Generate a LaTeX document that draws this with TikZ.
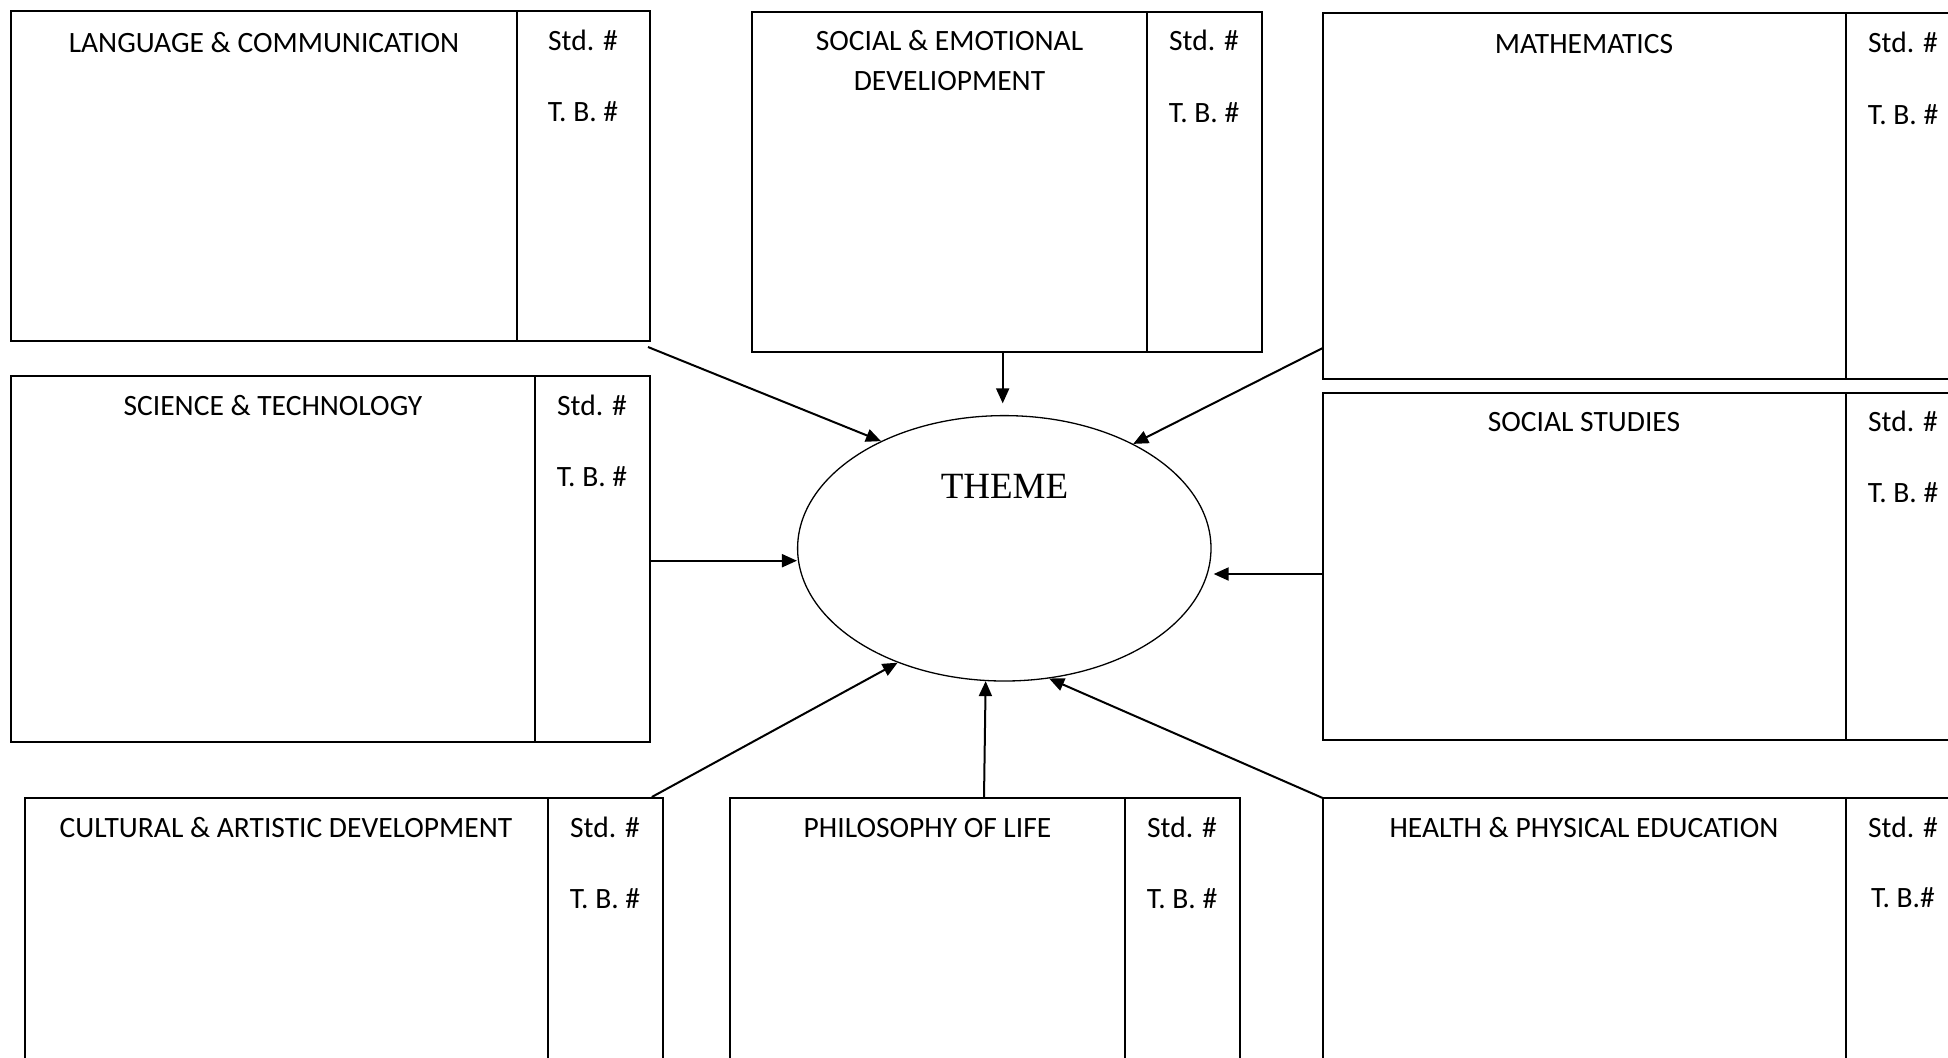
\documentclass[tikz,border=0pt]{standalone}
\usepackage{fontspec}
\setmainfont{Carlito}
\newfontfamily\themefont{Liberation Serif}
\usetikzlibrary{arrows.meta,shapes.geometric}
\begin{document}
\begin{tikzpicture}[x=0.5pt,y=-0.5pt,
  subj/.style={draw, line width=1pt, anchor=north west, inner sep=0pt, outer sep=0pt},
  divider/.style={line width=1pt},
  subjtext/.style={font=\fontsize{14.75}{16}\selectfont, anchor=base, inner sep=0pt},
  arr/.style={line width=1pt, -{Triangle[length=7.5pt,width=6.5pt]}},
  themeell/.style={draw, ellipse, line width=0.65pt, inner sep=0pt, minimum width=206.7pt, minimum height=132.7pt},
]
\clip (0,0) rectangle (1948,1057);
\fill[white] (0,0) rectangle (1948,1057);

% LANGUAGE & COMMUNICATION
\node[subj, minimum width=319.4pt, minimum height=165pt] (lang) at (10.7,11) {};
\draw[divider] (517,11) -- (517,341);
\node[subjtext] (langT) at (264,52) {LANGUAGE \& COMMUNICATION};
\node[subjtext] (langS) at (583,50) {Std. \#};
\node[subjtext] (langB) at (583,121) {T. B. \#};

% SCIENCE & TECHNOLOGY
\node[subj, minimum width=319.4pt, minimum height=183pt] (sci) at (10.7,376) {};
\draw[divider] (535,376) -- (535,742);
\node[subjtext] (sciT) at (273,415) {SCIENCE \& TECHNOLOGY};
\node[subjtext] (sciS) at (592,415) {Std. \#};
\node[subjtext] (sciB) at (592,486) {T. B. \#};

% SOCIAL & EMOTIONAL
\node[subj, minimum width=254.8pt, minimum height=170pt] (se) at (752,12) {};
\draw[divider] (1147,12) -- (1147,352);
\node[subjtext] (seT1) at (949.5,50) {SOCIAL \& EMOTIONAL};
\node[subjtext] (seT2) at (949.5,90) {DEVELIOPMENT};
\node[subjtext] (seS) at (1204,50) {Std. \#};
\node[subjtext] (seB) at (1204,122) {T. B. \#};

% MATHEMATICS
\node[subj, minimum width=318.65pt, minimum height=182.85pt] (math) at (1322.7,13.3) {};
\draw[divider] (1846,13.3) -- (1846,379);
\node[subjtext] (mathT) at (1584,53) {MATHEMATICS};
\node[subjtext] (mathS) at (1903,52) {Std. \#};
\node[subjtext] (mathB) at (1903,124) {T. B. \#};

% SOCIAL STUDIES
\node[subj, minimum width=318.65pt, minimum height=173.5pt] (ss) at (1322.7,393) {};
\draw[divider] (1846,393) -- (1846,740);
\node[subjtext] (ssT) at (1584,431) {SOCIAL STUDIES};
\node[subjtext] (ssS) at (1903,431) {Std. \#};
\node[subjtext] (ssB) at (1903,502) {T. B. \#};

% CULTURAL & ARTISTIC
\node[subj, minimum width=319pt, minimum height=141pt] (cult) at (24.5,798) {};
\draw[divider] (548,798) -- (548,1080);
\node[subjtext] (cultT) at (286,837) {CULTURAL \& ARTISTIC DEVELOPMENT};
\node[subjtext] (cultS) at (605,837) {Std. \#};
\node[subjtext] (cultB) at (605,908) {T. B. \#};

% PHILOSOPHY OF LIFE
\node[subj, minimum width=254.85pt, minimum height=141pt] (phil) at (730,798) {};
\draw[divider] (1125,798) -- (1125,1080);
\node[subjtext] (philT) at (927.5,837) {PHILOSOPHY OF LIFE};
\node[subjtext] (philS) at (1182,837) {Std. \#};
\node[subjtext] (philB) at (1182,908) {T. B. \#};

% HEALTH & PHYSICAL EDUCATION
\node[subj, minimum width=318.65pt, minimum height=141pt] (health) at (1322.7,798) {};
\draw[divider] (1846,798) -- (1846,1080);
\node[subjtext] (healthT) at (1584,837) {HEALTH \& PHYSICAL EDUCATION};
\node[subjtext] (healthS) at (1903,837) {Std. \#};
\node[subjtext] (healthB) at (1903,907) {T. B.\#};

% THEME
\node[themeell] (theme) at (1004.3,548.3) {};
\node[font=\themefont\fontsize{18.5}{20}\selectfont, anchor=base, inner sep=0pt] (themeT) at (1004.5,498) {THEME};

% connector start points
\coordinate (langA) at (648,347);
\coordinate (seA) at (1002.7,352);
\coordinate (mathA) at (1322.7,348);
\coordinate (sciA) at (649.5,560.7);
\coordinate (ssA) at (1322.7,574);
\coordinate (cultA) at (651.8,797);
\coordinate (philA) at (984,798);
\coordinate (healthA) at (1322.7,798);

\draw[arr] (langA) -- (theme.139.7);
\draw[arr, shorten >=5.8pt] (seA) -- (seA |- theme.north);
\draw[arr] (mathA) -- (theme.39.2);
\draw[arr] (sciA) -- (sciA -| theme.west);
\draw[arr, shorten >=1pt] (ssA) -- (ssA -| theme.east);
\draw[arr] (cultA) -- (theme.227.9);
\draw[arr] (philA) -- (theme.262.3);
\draw[arr] (healthA) -- (theme.289.7);
\end{tikzpicture}
\end{document}
